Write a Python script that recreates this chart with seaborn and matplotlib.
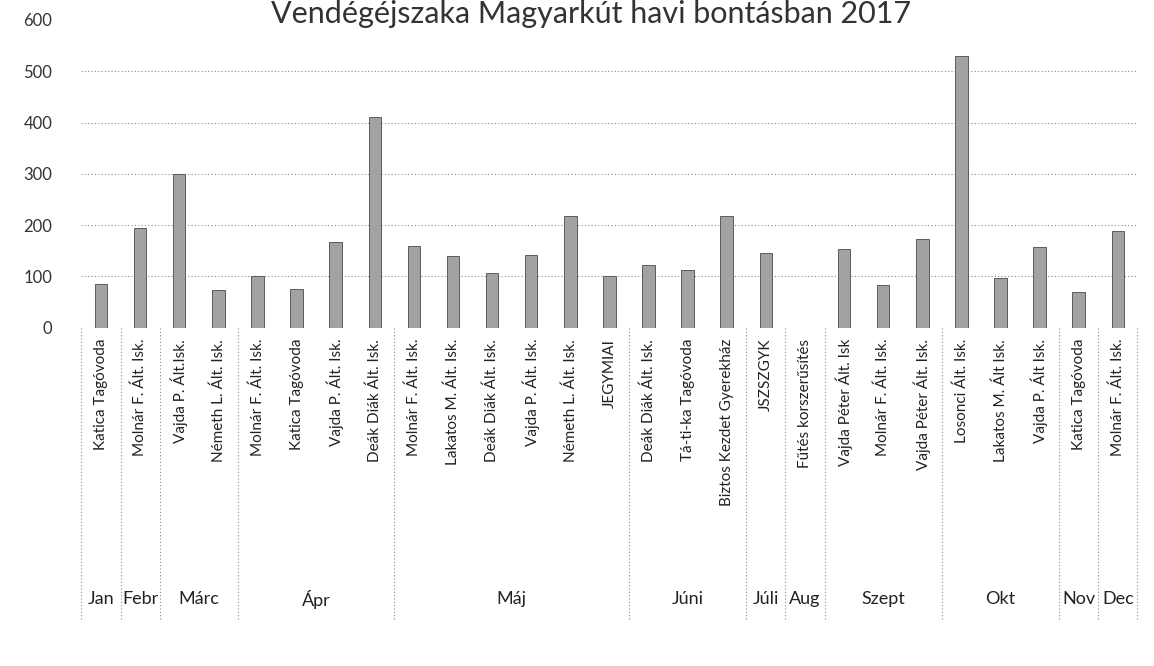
import pandas as pd
import numpy as np
import matplotlib
matplotlib.use("Agg")
import matplotlib.pyplot as plt
import matplotlib.transforms as mtransforms
import seaborn as sns

# Adatok: hónap, vendég (intézmény), vendégéjszakák száma
honapok = [
    "Jan", "Febr", "Márc", "Márc", "Ápr", "Ápr", "Ápr", "Ápr",
    "Máj", "Máj", "Máj", "Máj", "Máj", "Máj",
    "Júni", "Júni", "Júni", "Júli", "Aug",
    "Szept", "Szept", "Szept", "Okt", "Okt", "Okt", "Nov", "Dec"
]
vendegek = [
    "Katica Tagóvoda", "Molnár F. Ált. Isk.", "Vajda P. Ált.Isk.", "Németh L. Ált. Isk.",
    "Molnár F. Ált. Isk.", "Katica Tagóvoda", "Vajda P. Ált. Isk.", "Deák Diák Ált. Isk.",
    "Molnár F. Ált. Isk.", "Lakatos M. Ált. Isk.", "Deák Diák Ált. Isk.", "Vajda P. Ált. Isk.",
    "Németh L. Ált. Isk.", "JEGYMIAI",
    "Deák Diák Ált. Isk.", "Tá-ti-ka Tagóvoda", "Biztos Kezdet Gyerekház",
    "JSZSZGYK", "Fűtés korszerűsítés",
    "Vajda Péter Ált. Isk", "Molnár F. Ált. Isk.", "Vajda Péter Ált. Isk.",
    "Losonci Ált. Isk.", "Lakatos M. Ált Isk.", "Vajda P. Ált Isk.",
    "Katica Tagóvoda", "Molnár F. Ált. Isk."
]
ejszakak = [
    86, 195, 300, 74, 100, 76, 168, 410,
    160, 140, 106, 142, 218, 100,
    122, 112, 218, 146, 0,
    154, 84, 172, 530, 97, 157, 69, 188
]

df = pd.DataFrame({"honap": honapok, "vendeg": vendegek, "ejszaka": ejszakak})
df["kulcs"] = [f"{i}" for i in range(len(df))]

sns.set_theme(style="white")
plt.rcParams["font.family"] = ["Lato", "DejaVu Sans"]

fig = plt.figure(figsize=(11.54, 6.66), dpi=100)
ax = fig.add_axes([0.0706, 0.508, 0.915, 0.462])

sns.barplot(data=df, x="kulcs", y="ejszaka", order=df["kulcs"], color="#a2a2a2",
            width=0.32, edgecolor="#4a4a4a", linewidth=0.6, ax=ax)

ax.set_ylim(0, 600)
ax.set_xlim(-0.5, len(df) - 0.5)
ax.set_yticks(range(0, 601, 100))
ax.yaxis.grid(True, linestyle=(0, (1, 2)), color="#8a8a8a", linewidth=0.8)
ax.get_ygridlines()[-1].set_visible(False)
ax.set_axisbelow(True)
for s in ax.spines.values():
    s.set_visible(False)
ax.tick_params(axis="both", length=0)
ax.tick_params(axis="y", labelsize=12, pad=21, colors="#333333")
ax.set_xticks(range(len(df)))
ax.set_xticklabels(df["vendeg"], rotation=90, fontsize=11, color="#222222")
ax.tick_params(axis="x", pad=8)
ax.set_xlabel("")
ax.set_ylabel("")

# Hónap csoportok: elválasztó vonalak és feliratok
trans = mtransforms.blended_transform_factory(ax.transData, ax.transAxes)
csoportok = []
for i, h in enumerate(honapok):
    if csoportok and csoportok[-1][0] == h:
        csoportok[-1][2] = i
    else:
        csoportok.append([h, i, i])

hatarok = [c[1] - 0.5 for c in csoportok] + [len(df) - 0.5]
for x in hatarok:
    ax.plot([x, x], [0, -0.95], transform=trans, clip_on=False,
            color="#8a8a8a", linestyle=(0, (1, 2)), linewidth=0.8)
for h, a, b in csoportok:
    ax.text((a + b) / 2, -0.883, h, transform=trans, ha="center", va="center",
            fontsize=13, color="#222222")

fig.text(0.512, 1 - 23 / 666, "Vendégéjszaka Magyarkút havi bontásban 2017",
         ha="center", va="baseline", fontsize=22, color="#333333")

fig.savefig("out.png", dpi=100)
